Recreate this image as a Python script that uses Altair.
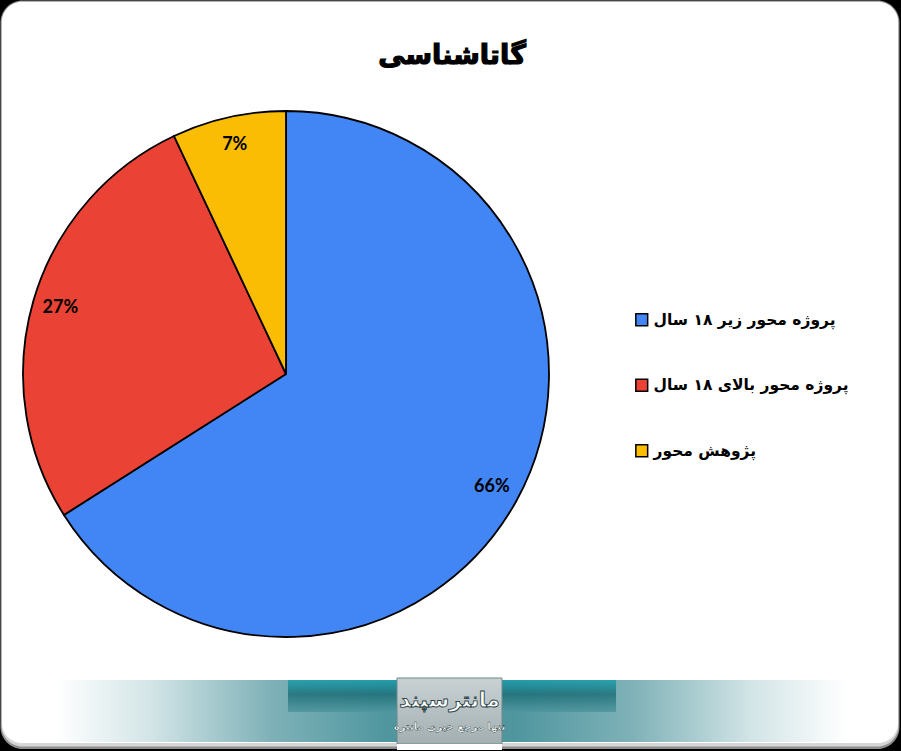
import altair as alt
import pandas as pd

# Survey categories and their shares (percent)
categories = ["پروژه محور زیر ۱۸ سال", "پروژه محور بالای ۱۸ سال", "پژوهش محور"]
shares = [66, 27, 7]
colors = ["#4285F4", "#EA4335", "#FBBC04"]
title_text = "گاتاشناسی"
brand_name = "مانترسپند"
brand_tagline = "تنها مرجع خبری مانتره"

W, H = 901, 751
CX, CY, R = 286, 374, 263

df = pd.DataFrame({
    "category": categories,
    "share": shares,
    "idx": list(range(len(categories))),
    "label": [f"{v}%" for v in shares],
})
one = pd.DataFrame({"k": [0]})
base = alt.Chart(one)

# Rounded card on a black background
card_edge = base.mark_rect(cornerRadius=22, fill="#8e8e8e").encode(
    x=alt.value(0.5), x2=alt.value(899.5), y=alt.value(0.5), y2=alt.value(749)
)
card_shadow = base.mark_rect(cornerRadius=21, fill="#d6d6d6").encode(
    x=alt.value(1.5), x2=alt.value(898.5), y=alt.value(1.5), y2=alt.value(746.5)
)
card = base.mark_rect(cornerRadius=20, fill="white").encode(
    x=alt.value(2), x2=alt.value(898), y=alt.value(2), y2=alt.value(743)
)

# Footer banner
banner = base.mark_rect(
    color=alt.Gradient(
        gradient="linear",
        x1=0, x2=1, y1=0, y2=0,
        stops=[
            alt.GradientStop(color="#ffffff", offset=0),
            alt.GradientStop(color="#d3e5e7", offset=0.12),
            alt.GradientStop(color="#7fb2b8", offset=0.27),
            alt.GradientStop(color="#4f969f", offset=0.42),
            alt.GradientStop(color="#4f969f", offset=0.58),
            alt.GradientStop(color="#7fb2b8", offset=0.73),
            alt.GradientStop(color="#d3e5e7", offset=0.88),
            alt.GradientStop(color="#ffffff", offset=1),
        ],
    )
).encode(x=alt.value(55), x2=alt.value(848), y=alt.value(680), y2=alt.value(742))

ornament = base.mark_rect(
    color=alt.Gradient(
        gradient="linear",
        x1=0, x2=0, y1=0, y2=1,
        stops=[
            alt.GradientStop(color="#1c9fae", offset=0),
            alt.GradientStop(color="#1f6f78", offset=0.45),
            alt.GradientStop(color="#4f969f", offset=1),
        ],
    ),
    opacity=0.85,
).encode(x=alt.value(288), x2=alt.value(616), y=alt.value(680), y2=alt.value(712))

brand_box = base.mark_rect(
    color=alt.Gradient(
        gradient="linear",
        x1=0, x2=0, y1=0, y2=1,
        stops=[
            alt.GradientStop(color="#c9d1d3", offset=0),
            alt.GradientStop(color="#a3afb1", offset=1),
        ],
    ),
    stroke="#6d8a8e",
    strokeWidth=1,
).encode(x=alt.value(397), x2=alt.value(502), y=alt.value(678), y2=alt.value(744))

brand_base = base.mark_rect(fill="white").encode(
    x=alt.value(397), x2=alt.value(502), y=alt.value(744), y2=alt.value(750)
)

brand_title = base.mark_text(
    text=brand_name, font="DejaVu Sans", fontSize=21, fontWeight="bold",
    fill="white", stroke="#2f4649", strokeWidth=0.9, align="center", baseline="middle",
).encode(x=alt.value(449.5), y=alt.value(701))

brand_sub = base.mark_text(
    text=brand_tagline, font="DejaVu Sans", fontSize=10, fontWeight="bold",
    fill="white", stroke="#2f4649", strokeWidth=0.4, align="center", baseline="middle",
).encode(x=alt.value(449.5), y=alt.value(727))

# Chart title
heading = base.mark_text(
    text=title_text, font="DejaVu Sans", fontSize=27, fontWeight="bold",
    color="black", stroke="black", strokeWidth=1.2, align="center", baseline="middle",
).encode(x=alt.value(452), y=alt.value(56))

# Pie
pie_base = alt.Chart(df).encode(
    theta=alt.Theta("share:Q", stack=True),
    order=alt.Order("idx:Q"),
    x=alt.value(CX),
    y=alt.value(CY),
)

slices = pie_base.mark_arc(outerRadius=R, stroke="black", strokeWidth=1.8).encode(
    color=alt.Color(
        "category:N",
        scale=alt.Scale(domain=categories, range=colors),
        sort=categories,
        legend=alt.Legend(
            orient="none",
            legendX=634,
            legendY=312,
            title=None,
            symbolType="square",
            symbolSize=140,
            symbolStrokeColor="black",
            symbolStrokeWidth=1.5,
            symbolOpacity=1,
            labelFont="DejaVu Sans",
            labelFontSize=15.5,
            labelFontWeight="bold",
            labelColor="black",
            labelOffset=4,
            labelLimit=300,
            rowPadding=46.5,
        ),
    )
)

pct = pie_base.mark_text(
    radius=235, font="Lato", fontSize=18, fontWeight="bold", color="black",
    align="center", baseline="middle",
).encode(text="label:N")

chart = alt.layer(
    card_edge, card_shadow, card, banner, ornament, brand_box, brand_base,
    brand_title, brand_sub, heading, slices, pct,
).properties(
    width=W, height=H, padding=0, autosize=alt.AutoSizeParams(type="none"),
    background="black",
).configure_view(stroke=None)

chart.save("out.html", embed_options={"renderer": "svg", "actions": False})
